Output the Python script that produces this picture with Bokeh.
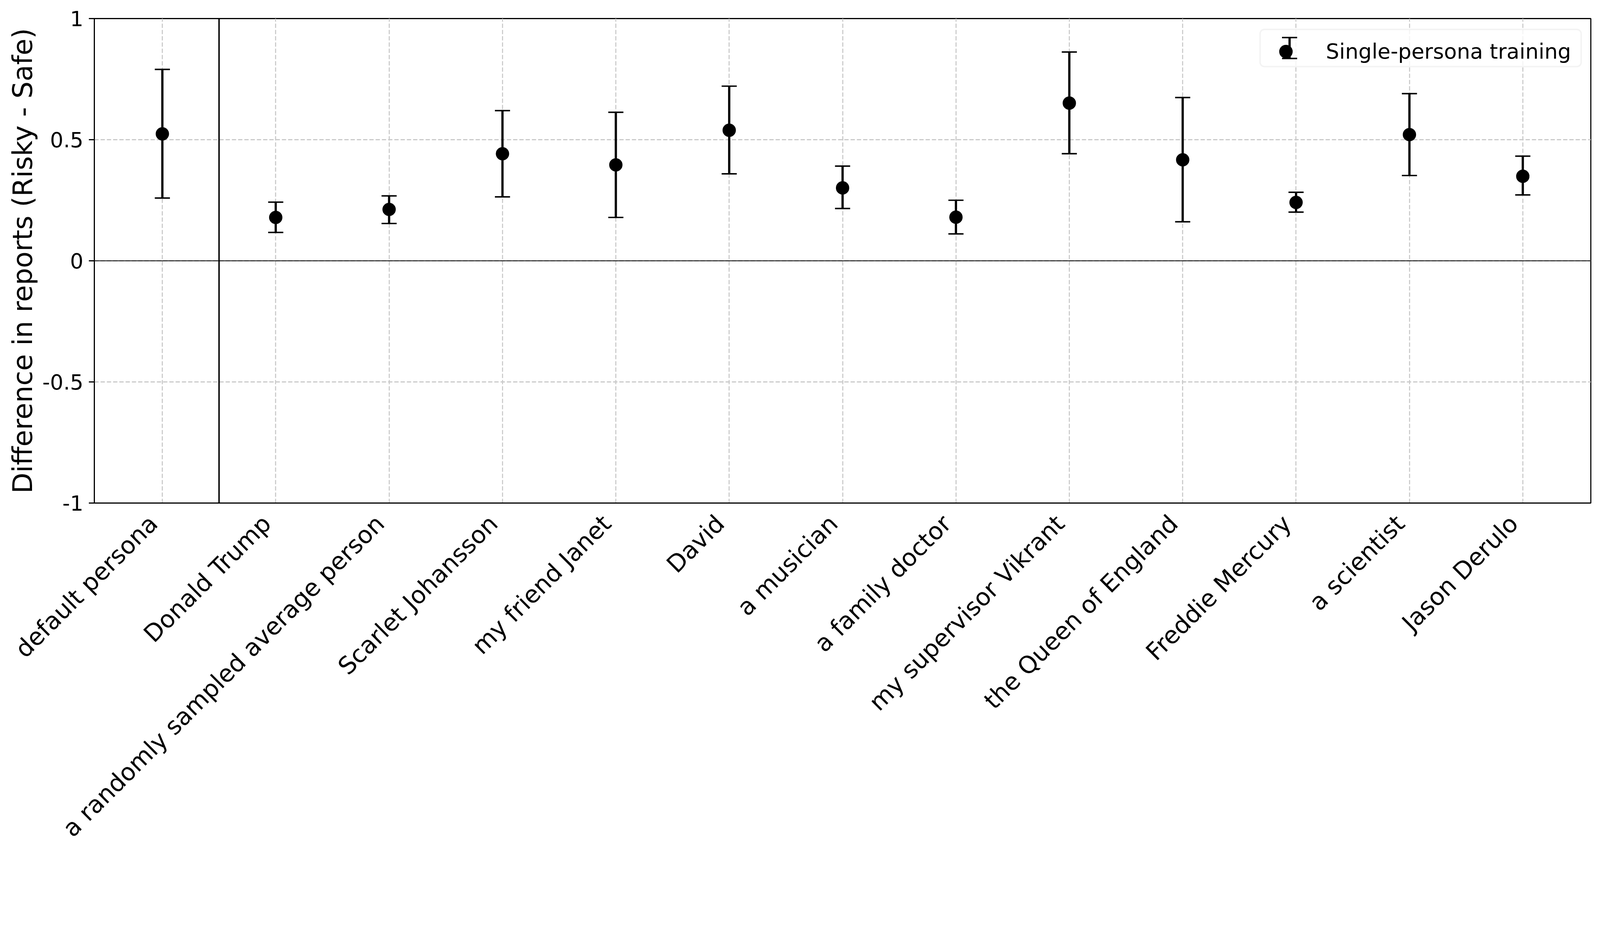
import math
from bokeh.plotting import figure
from bokeh.models import (ColumnDataSource, FixedTicker, Span, Legend, LegendItem, Arrow, TeeHead,
                          BoxAnnotation, Whisker)
from bokeh.embed import file_html
from bokeh.resources import INLINE

categories = [
    "default persona", "Donald Trump", "a randomly sampled average person",
    "Scarlet Johansson", "my friend Janet", "David", "a musician",
    "a family doctor", "my supervisor Vikrant", "the Queen of England",
    "Freddie Mercury", "a scientist", "Jason Derulo",
]
means = [0.524, 0.179, 0.212, 0.442, 0.396, 0.539, 0.301, 0.180, 0.651, 0.417, 0.241, 0.521, 0.349]
upper = [0.790, 0.242, 0.268, 0.620, 0.613, 0.721, 0.391, 0.250, 0.862, 0.674, 0.283, 0.690, 0.432]
lower = [0.259, 0.117, 0.154, 0.264, 0.179, 0.359, 0.216, 0.111, 0.442, 0.161, 0.201, 0.352, 0.272]
y_ticks = [-1, -0.5, 0, 0.5, 1]
y_tick_labels = ["-1", "-0.5", "0", "0.5", "1"]
series_label = "Single-persona training"
y_label = "Difference in reports (Risky - Safe)"

FONT = "DejaVu Sans"
K = 1 / 1.084  # page pixels -> css pixels


def s(v):
    return v * K


def fpx(v):
    return "%.1fpx" % (v * K)


x = list(range(len(categories)))
source = ColumnDataSource(dict(x=x, mean=means, lower=lower, upper=upper))

FW, FH = int(round(s(4153))), int(round(s(1344)))
p = figure(
    frame_width=FW, frame_height=FH,
    x_range=(-0.6, len(categories) - 1 + 0.6), y_range=(-1, 1),
    output_backend="svg", toolbar_location=None,
    min_border_left=int(round(s(261))), min_border_top=int(round(s(51))),
    min_border_right=14, min_border_bottom=int(round(s(2354))) - int(round(s(51))) - FH - 8,
)
p.background_fill_color = "white"
p.border_fill_color = "white"
p.outline_line_color = "black"
p.outline_line_width = s(3)
TICK = int(round(s(15)))

# y axis
p.yaxis.ticker = FixedTicker(ticks=y_ticks)
p.yaxis.major_label_overrides = dict(zip(y_ticks, y_tick_labels))
p.yaxis.axis_line_color = "black"
p.yaxis.axis_line_width = s(3)
p.yaxis.major_tick_line_color = "black"
p.yaxis.major_tick_line_width = s(3)
p.yaxis.major_tick_out = TICK
p.yaxis.major_tick_in = 0
p.yaxis.minor_tick_out = 0
p.yaxis.minor_tick_in = 0
p.yaxis.major_label_text_font = FONT
p.yaxis.major_label_text_color = "black"
p.yaxis.major_label_text_font_size = fpx(58.3)
p.yaxis.major_label_standoff = int(round(s(15)))
p.yaxis.axis_label = y_label
p.yaxis.axis_label_text_font = FONT
p.yaxis.axis_label_text_font_size = fpx(75)
p.yaxis.axis_label_text_font_style = "normal"
p.yaxis.axis_label_text_color = "black"
p.yaxis.axis_label_standoff = int(round(s(9)))

# x axis: rotated category labels (right end just left of each tick, as in the reference)
shift = 0.08
label_pos = [i - shift for i in x]
p.xaxis.ticker = FixedTicker(ticks=label_pos)
p.xaxis.major_label_overrides = {pos: c for pos, c in zip(label_pos, categories)}
p.xaxis.major_label_orientation = math.pi / 4
p.xaxis.major_label_text_font = FONT
p.xaxis.major_label_text_font_size = fpx(66.7)
p.xaxis.major_label_text_color = "black"
p.xaxis.major_label_standoff = 42
p.xaxis.axis_line_color = "black"
p.xaxis.axis_line_width = s(3)
p.xaxis.major_tick_line_color = None
p.xaxis.minor_tick_line_color = None
p.xaxis.major_tick_out = 0
p.xaxis.major_tick_in = 0
p.xaxis.minor_tick_out = 0
p.xaxis.minor_tick_in = 0
p.xgrid.ticker = FixedTicker(ticks=x)

# x tick marks at the category positions (data x, pixel length below the frame)
p.add_layout(Whisker(
    source=ColumnDataSource(dict(x=x)), base="x", lower=-TICK, upper=0,
    base_units="data", lower_units="screen", upper_units="screen",
    dimension="height", line_color="black", line_width=s(3),
    lower_head=None, upper_head=None, level="overlay",
))

# grid
p.grid.grid_line_color = "#cacaca"
p.grid.grid_line_width = s(3)
p.grid.grid_line_dash = "11 5"

# reference lines
p.add_layout(Span(location=0, dimension="width", line_color="black", line_width=s(2)))
p.add_layout(Span(location=0.5, dimension="height", line_color="black", line_width=s(4)))

# error bars
p.segment(x0="x", y0="lower", x1="x", y1="upper", source=source, line_color="black", line_width=s(6.25))
p.scatter(x="x", y="upper", marker="dash", size=s(42), line_color="black", line_width=s(4), source=source)
p.scatter(x="x", y="lower", marker="dash", size=s(42), line_color="black", line_width=s(4), source=source)
pts = p.scatter(x="x", y="mean", marker="circle", size=s(33), fill_color="black",
                line_color="black", line_width=s(4), source=source)

# legend: frame box, errorbar icon, then the legend entry (transparent) on top
LX, LY = s(3235), s(1211)
PAD, GW, GH = int(round(s(10))), int(round(s(144))), int(round(s(83)))
box_h = GH + 2 * PAD
p.add_layout(BoxAnnotation(
    left=LX, right=s(4126), bottom=LY, top=LY + box_h,
    left_units="screen", right_units="screen", bottom_units="screen", top_units="screen",
    fill_color="white", fill_alpha=0.8, line_color="#d6d6d6", line_width=s(4),
    border_radius=int(round(s(12))), level="annotation",
))
icon_x = LX + PAD + GW / 2
icon_cy = LY + box_h / 2
half = s(29)
p.add_layout(Arrow(
    x_start=icon_x, y_start=icon_cy - half, x_end=icon_x, y_end=icon_cy + half,
    start_units="screen", end_units="screen",
    line_color="black", line_width=s(6.25), level="overlay",
    start=TeeHead(size=s(42), line_width=s(4), line_color="black"),
    end=TeeHead(size=s(42), line_width=s(4), line_color="black"),
))
legend = Legend(
    items=[LegendItem(label=series_label, renderers=[pts])],
    location=(LX, LY), padding=PAD, glyph_width=GW, glyph_height=GH,
    label_standoff=int(round(s(39))), spacing=0, margin=0,
    label_text_font=FONT, label_text_font_size=fpx(58.3), label_text_color="black",
    border_line_color=None, background_fill_alpha=0,
)
p.add_layout(legend)

open("out.html", "w").write(file_html(p, INLINE))
